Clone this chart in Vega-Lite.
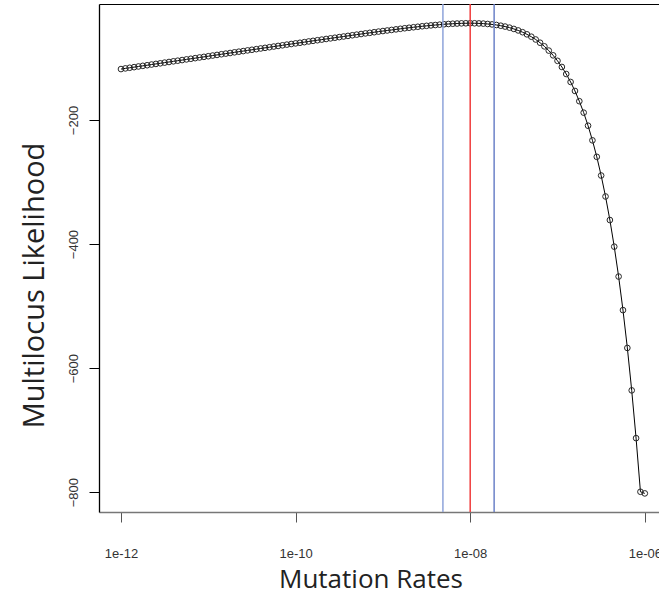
{
  "$schema": "https://vega.github.io/schema/vega-lite/v6.json",
  "width": 561,
  "height": 508,
  "autosize": {"type": "none"},
  "padding": {"left": 99, "top": 4, "right": 0, "bottom": 91},
  "background": "white",
  "config": {"view": {"stroke": null}, "axis": {"grid": false}},
  "datasets": {
    "lik": [
      {"mu": 1e-12, "ll": -117.9}, {"mu": 1.122e-12, "ll": -116.8}, {"mu": 1.259e-12, "ll": -115.8}, {"mu": 1.413e-12, "ll": -114.8}, {"mu": 1.585e-12, "ll": -113.7},
      {"mu": 1.778e-12, "ll": -112.7}, {"mu": 1.995e-12, "ll": -111.7}, {"mu": 2.239e-12, "ll": -110.6}, {"mu": 2.512e-12, "ll": -109.6}, {"mu": 2.818e-12, "ll": -108.6},
      {"mu": 3.162e-12, "ll": -107.5}, {"mu": 3.548e-12, "ll": -106.5}, {"mu": 3.981e-12, "ll": -105.4}, {"mu": 4.467e-12, "ll": -104.4}, {"mu": 5.012e-12, "ll": -103.4},
      {"mu": 5.623e-12, "ll": -102.3}, {"mu": 6.31e-12, "ll": -101.3}, {"mu": 7.079e-12, "ll": -100.3}, {"mu": 7.943e-12, "ll": -99.2}, {"mu": 8.913e-12, "ll": -98.2},
      {"mu": 1e-11, "ll": -97.2}, {"mu": 1.122e-11, "ll": -96.1}, {"mu": 1.259e-11, "ll": -95.1}, {"mu": 1.413e-11, "ll": -94.0}, {"mu": 1.585e-11, "ll": -93.0},
      {"mu": 1.778e-11, "ll": -92.0}, {"mu": 1.995e-11, "ll": -90.9}, {"mu": 2.239e-11, "ll": -89.9}, {"mu": 2.512e-11, "ll": -88.9}, {"mu": 2.818e-11, "ll": -87.8},
      {"mu": 3.162e-11, "ll": -86.8}, {"mu": 3.548e-11, "ll": -85.8}, {"mu": 3.981e-11, "ll": -84.7}, {"mu": 4.467e-11, "ll": -83.7}, {"mu": 5.012e-11, "ll": -82.7},
      {"mu": 5.623e-11, "ll": -81.6}, {"mu": 6.31e-11, "ll": -80.6}, {"mu": 7.079e-11, "ll": -79.6}, {"mu": 7.943e-11, "ll": -78.5}, {"mu": 8.913e-11, "ll": -77.5},
      {"mu": 1e-10, "ll": -76.5}, {"mu": 1.122e-10, "ll": -75.5}, {"mu": 1.259e-10, "ll": -74.5}, {"mu": 1.413e-10, "ll": -73.4}, {"mu": 1.585e-10, "ll": -72.4},
      {"mu": 1.778e-10, "ll": -71.4}, {"mu": 1.995e-10, "ll": -70.4}, {"mu": 2.239e-10, "ll": -69.4}, {"mu": 2.512e-10, "ll": -68.4}, {"mu": 2.818e-10, "ll": -67.4},
      {"mu": 3.162e-10, "ll": -66.4}, {"mu": 3.548e-10, "ll": -65.4}, {"mu": 3.981e-10, "ll": -64.4}, {"mu": 4.467e-10, "ll": -63.4}, {"mu": 5.012e-10, "ll": -62.4},
      {"mu": 5.623e-10, "ll": -61.4}, {"mu": 6.31e-10, "ll": -60.4}, {"mu": 7.079e-10, "ll": -59.5}, {"mu": 7.943e-10, "ll": -58.5}, {"mu": 8.913e-10, "ll": -57.5},
      {"mu": 1e-9, "ll": -56.6}, {"mu": 1.122e-9, "ll": -55.7}, {"mu": 1.259e-9, "ll": -54.8}, {"mu": 1.413e-9, "ll": -53.9}, {"mu": 1.585e-9, "ll": -53.0},
      {"mu": 1.778e-9, "ll": -52.1}, {"mu": 1.995e-9, "ll": -51.3}, {"mu": 2.239e-9, "ll": -50.5}, {"mu": 2.512e-9, "ll": -49.7}, {"mu": 2.818e-9, "ll": -48.9},
      {"mu": 3.162e-9, "ll": -48.2}, {"mu": 3.548e-9, "ll": -47.5}, {"mu": 3.981e-9, "ll": -46.9}, {"mu": 4.467e-9, "ll": -46.3}, {"mu": 5.012e-9, "ll": -45.7},
      {"mu": 5.623e-9, "ll": -45.2}, {"mu": 6.31e-9, "ll": -44.8}, {"mu": 7.079e-9, "ll": -44.5}, {"mu": 7.943e-9, "ll": -44.2}, {"mu": 8.913e-9, "ll": -44.1},
      {"mu": 1e-8, "ll": -44.0}, {"mu": 1.122e-8, "ll": -44.1}, {"mu": 1.259e-8, "ll": -44.3}, {"mu": 1.413e-8, "ll": -44.6}, {"mu": 1.585e-8, "ll": -45.2},
      {"mu": 1.778e-8, "ll": -45.9}, {"mu": 1.995e-8, "ll": -46.8}, {"mu": 2.239e-8, "ll": -48.0}, {"mu": 2.512e-8, "ll": -49.4}, {"mu": 2.818e-8, "ll": -51.1},
      {"mu": 3.162e-8, "ll": -53.2}, {"mu": 3.548e-8, "ll": -55.6}, {"mu": 3.981e-8, "ll": -58.5}, {"mu": 4.467e-8, "ll": -61.9}, {"mu": 5.012e-8, "ll": -65.7},
      {"mu": 5.623e-8, "ll": -70.2}, {"mu": 6.31e-8, "ll": -75.4}, {"mu": 7.079e-8, "ll": -81.3}, {"mu": 7.943e-8, "ll": -88.1}, {"mu": 8.913e-8, "ll": -95.8},
      {"mu": 1e-7, "ll": -104.6}, {"mu": 1.122e-7, "ll": -114.5}, {"mu": 1.259e-7, "ll": -125.9}, {"mu": 1.413e-7, "ll": -138.7}, {"mu": 1.585e-7, "ll": -153.2},
      {"mu": 1.778e-7, "ll": -169.7}, {"mu": 1.995e-7, "ll": -188.2}, {"mu": 2.239e-7, "ll": -209.2}, {"mu": 2.512e-7, "ll": -232.8}, {"mu": 2.818e-7, "ll": -259.4},
      {"mu": 3.162e-7, "ll": -289.5}, {"mu": 3.548e-7, "ll": -323.3}, {"mu": 3.981e-7, "ll": -361.3}, {"mu": 4.467e-7, "ll": -404.2}, {"mu": 5.012e-7, "ll": -452.4},
      {"mu": 5.623e-7, "ll": -506.5}, {"mu": 6.31e-7, "ll": -567.5}, {"mu": 7.079e-7, "ll": -635.9}, {"mu": 7.943e-7, "ll": -712.9}, {"mu": 8.913e-7, "ll": -799.4},
      {"mu": 1e-6, "ll": -802.0}
    ],
    "ci": [
      {"mu": 4.87e-9, "k": "lo"},
      {"mu": 1e-8, "k": "mle"},
      {"mu": 1.88e-8, "k": "hi"}
    ]
  },
  "layer": [
    {
      "data": {"name": "lik"},
      "mark": {
        "type": "line", "color": "black", "strokeWidth": 1,
        "point": {"shape": "circle", "filled": false, "stroke": "#262626", "strokeWidth": 1, "size": 32, "opacity": 1}
      },
      "encoding": {
        "x": {
          "field": "mu", "type": "quantitative",
          "scale": {"type": "log", "domain": [5.6e-13, 1.493e-6], "nice": false},
          "axis": {
            "orient": "bottom",
            "values": [1e-12, 1e-10, 1e-8, 1e-6],
            "labelExpr": "datum.value < 1e-11 ? '1e-12' : datum.value < 1e-9 ? '1e-10' : datum.value < 1e-7 ? '1e-08' : '1e-06'",
            "title": "Mutation Rates",
            "domainColor": "#777777", "domainWidth": 1.5,
            "tickColor": "#555555", "tickSize": 10, "tickWidth": 1,
            "labelFont": "Liberation Sans", "labelFontSize": 13, "labelColor": "#333333",
            "labelPadding": 35, "labelBaseline": "alphabetic", "labelFlush": false, "labelOverlap": false,
            "titleFont": "Open Sans", "titleFontSize": 26, "titleFontWeight": "normal", "titleColor": "#222222",
            "titleX": 271.5, "titleY": 75, "titleBaseline": "alphabetic", "titleAlign": "center"
          }
        },
        "y": {
          "field": "ll", "type": "quantitative",
          "scale": {"domain": [-832, -13], "nice": false, "zero": false},
          "axis": {
            "orient": "left",
            "values": [-200, -400, -600, -800],
            "title": "Multilocus Likelihood",
            "domainColor": "black", "domainWidth": 1.3,
            "tickColor": "black", "tickSize": 10, "tickWidth": 1,
            "labelAngle": 270, "labelAlign": "center", "labelBaseline": "alphabetic", "labelPadding": 12,
            "labelFont": "Liberation Sans", "labelFontSize": 13, "labelColor": "#333333", "labelOverlap": false,
            "titleFont": "Open Sans", "titleFontSize": 29, "titleFontWeight": "normal", "titleColor": "#222222",
            "titleX": -56, "titleY": 281, "titleAngle": 270, "titleAlign": "center", "titleBaseline": "alphabetic"
          }
        }
      }
    },
    {
      "data": {"name": "ci"},
      "mark": {"type": "rule", "strokeWidth": 1.5},
      "encoding": {
        "x": {
          "field": "mu", "type": "quantitative",
          "axis": {"orient": "top", "title": null, "labels": false, "ticks": false, "domainColor": "black", "domainWidth": 1.2, "grid": false}
        },
        "color": {
          "field": "k", "type": "nominal",
          "scale": {"domain": ["lo", "mle", "hi"], "range": ["#8ea3da", "#f03c3c", "#6c82c8"]},
          "legend": null
        }
      }
    }
  ]
}
